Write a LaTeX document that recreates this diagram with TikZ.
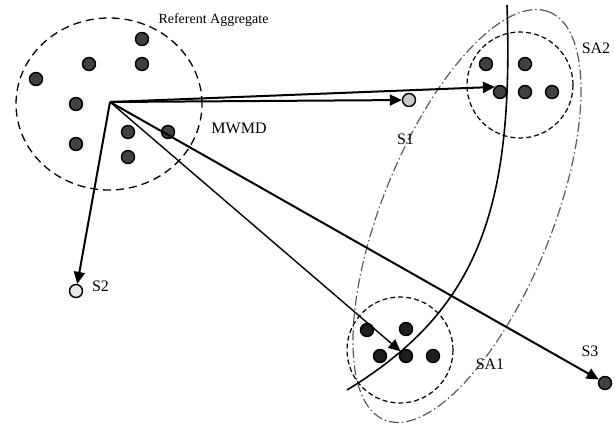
\documentclass[tikz,border=0pt]{standalone}
\usepackage{fontspec}
\setmainfont{Liberation Serif}
\usetikzlibrary{arrows.meta,shapes.geometric}
\definecolor{dotFill}{HTML}{404040}
\definecolor{dotDark}{HTML}{1E1E1E}
\definecolor{sOneFill}{HTML}{C8C8C8}
\definecolor{sTwoFill}{HTML}{E8E8E8}
\definecolor{bandBorder}{HTML}{5A5A5A}

\begin{document}
\begin{tikzpicture}[x=1pt, y=-1pt,
    dot/.style={
        circle, draw, line width=1.4pt,
        fill=dotFill, inner sep=0pt, minimum size=13pt
    },
    group/.style={ellipse, draw, inner sep=0pt},
    tag/.style={font=\fontsize{16}{18}\selectfont, anchor=base, inner sep=0pt},
    arrow/.style={-{Triangle[length=12pt, width=11pt]}, line width=2pt},
    thinarrow/.style={arrow, line width=1.4pt}
]
  \useasboundingbox (0,0) rectangle (615,423);

  % Group outlines
  \node[group, line width=1.3pt, dash pattern=on 8pt off 5pt,
        minimum width=186pt, minimum height=172pt] (ra) at (109,104) {};
  \node[group, line width=1.2pt, dash pattern=on 5pt off 3pt,
        minimum width=106pt, minimum height=106pt] (sa2g) at (520,85) {};
  \node[group, line width=1.2pt, dash pattern=on 5pt off 3pt,
        minimum width=106pt, minimum height=106pt] (sa1g) at (400,350) {};
  \node[group, line width=1.2pt, draw=bandBorder,
        dash pattern=on 10pt off 3pt on 1.5pt off 3pt,
        minimum width=440pt, minimum height=170pt, rotate=68] (band) at (467,216) {};

  % Referent aggregate
  \node[dot] (ra1) at (142,39) {};
  \node[dot] (ra2) at (89,64) {};
  \node[dot] (ra3) at (142,64) {};
  \node[dot] (ra4) at (36,79) {};
  \node[dot] (ra5) at (76,104) {};
  \node[dot] (ra6) at (128,132) {};
  \node[dot] (ra7) at (168,132) {};
  \node[dot] (ra8) at (76,144) {};
  \node[dot] (ra9) at (128,157) {};
  \coordinate (origin) at (110,102);

  % SA2
  \node[dot] (sa2a) at (486,64) {};
  \node[dot] (sa2b) at (525,64) {};
  \node[dot] (sa2c) at (500,92) {};
  \node[dot] (sa2d) at (525,92) {};
  \node[dot] (sa2e) at (552,92) {};

  % SA1
  \node[dot, fill=dotDark] (sa1a) at (367,330) {};
  \node[dot, fill=dotDark] (sa1b) at (406,329) {};
  \node[dot, fill=dotDark] (sa1c) at (406,356) {};
  \node[dot, fill=dotDark] (sa1d) at (380,356) {};
  \node[dot, fill=dotDark] (sa1e) at (433,356) {};

  % Single points
  \node[dot, fill=sOneFill] (s1) at (409,100) {};
  \node[dot, fill=sTwoFill] (s2) at (76,291) {};
  \node[dot] (s3) at (605,383) {};

  % Boundary
  \coordinate (btop) at (507,5);
  \coordinate (bbot) at (347,390);
  \draw[line width=1.6pt] (btop) .. controls (514,210) and (478,310) .. (bbot);

  % Arrows
  \draw[arrow] (origin) -- (s1);
  \draw[arrow] (origin) -- (sa2c.north west);
  \draw[arrow] (origin) -- (s2);
  \draw[arrow] (origin) -- (s3);
  \draw[thinarrow] (origin) -- (sa1c);

  % Labels
  \node[tag, font=\fontsize{14}{16}\selectfont] (raname) at (213.5,23.5) {Referent Aggregate};
  \node[tag] (mwmd) at (239,133) {MWMD};
  \node[tag] (s1name) at (405.5,144) {S1};
  \node[tag] (s2name) at (100.5,291) {S2};
  \node[tag] (s3name) at (590,356) {S3};
  \node[tag] (sa1name) at (490,369) {SA1};
  \node[tag] (sa2name) at (596,53) {SA2};

\end{tikzpicture}
\end{document}
